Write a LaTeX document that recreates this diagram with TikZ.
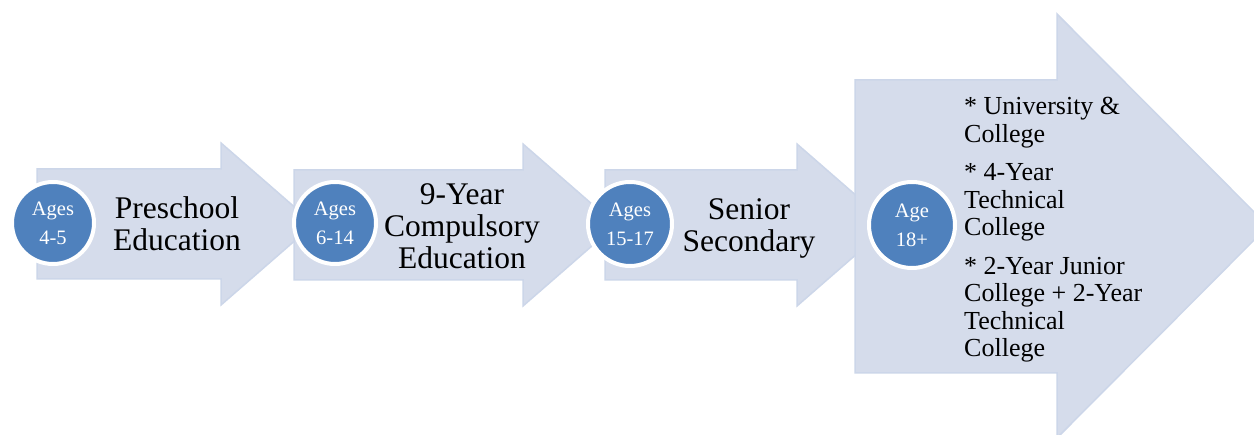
\documentclass[tikz,border=0pt]{standalone}
\usepackage{fontspec}
\setmainfont{Liberation Serif}
\definecolor{arrowfill}{HTML}{D5DCEB}
\definecolor{arrowedge}{HTML}{CCD6E9}
\definecolor{agefill}{HTML}{4F81BD}
\begin{document}
\begin{tikzpicture}[x=1pt,y=-1pt,
  stagearrow/.style={fill=arrowfill,draw=arrowedge,line width=1.5pt,line join=miter},
  agecircle/.style={circle,fill=agefill,draw=white,line width=4pt,inner sep=0pt,
    align=center,text=white,font=\fontsize{20.5}{29}\selectfont},
  stagetext/.style={align=center,inner sep=0pt,font=\fontsize{31.5}{32}\selectfont}]
\useasboundingbox [fill=white] (0, 0) rectangle (1254, 435);

% arrows
\draw [stagearrow] (37, 169) -- (221, 169) -- (221, 143) -- (314, 224) -- (221, 305) -- (221, 279) -- (37, 279) -- cycle;
\draw [stagearrow] (294, 170) -- (523, 170) -- (523, 144) -- (616, 225) -- (523, 306) -- (523, 280) -- (294, 280) -- cycle;
\draw [stagearrow] (605, 170) -- (797, 170) -- (797, 144) -- (890, 225) -- (797, 306) -- (797, 280) -- (605, 280) -- cycle;
\draw [stagearrow] (855, 80) -- (1057, 80) -- (1057, 14) -- (1268, 226) -- (1057, 438) -- (1057, 373) -- (855, 373) -- cycle;

% age circles
\node (age1) at (53, 223) [agecircle,minimum size=82pt] {Ages\\4-5};
\node (age2) at (335, 223) [agecircle,minimum size=82pt] {Ages\\6-14};
\node (age3) at (630, 224) [agecircle,minimum size=84pt] {Ages\\15-17};
\node (age4) at (912, 225) [agecircle,minimum size=86pt] {Age\\18+};

% stage texts
\node (preschool) at (177, 224) [stagetext] {Preschool\\Education};
\node (compulsory) at (462, 226) [stagetext] {9-Year\\Compulsory\\Education};
\node (senior) at (749, 228) [stagetext] {Senior\\Secondary};
\node (higher) at (964, 230) [anchor=west,align=left,inner sep=0pt,font=\fontsize{26}{27.5}\selectfont]
  {* University \&\\College\\[11pt]* 4-Year\\Technical\\College\\[11pt]* 2-Year Junior\\College + 2-Year\\Technical\\College};
\end{tikzpicture}
\end{document}
